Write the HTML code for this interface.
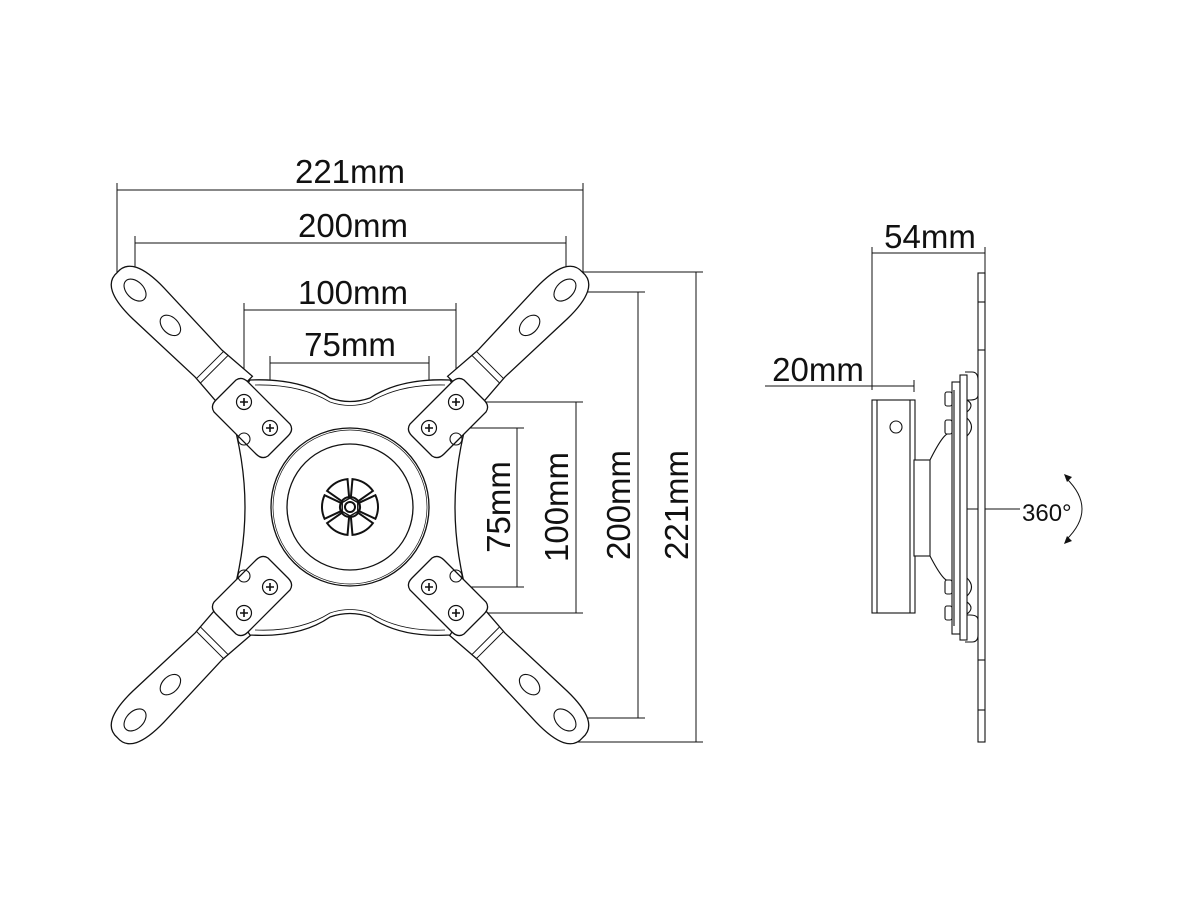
<!DOCTYPE html>
<html><head><meta charset="utf-8"><style>
html,body{margin:0;padding:0;background:#fff}
svg{display:block}
text{font-family:"Liberation Sans",Arial,sans-serif;fill:#111}
</style></head><body>
<svg width="1200" height="900" viewBox="0 0 1200 900" xmlns="http://www.w3.org/2000/svg">
<defs>
<g id="arm">
  <path d="M160,-22 L200,-19 L285,-22 Q331,-23 329,0 Q331,23 285,22 L200,19 L160,22 Z" fill="#fff" stroke="#111" stroke-width="1.3"/>
  <line x1="192" y1="-19" x2="192" y2="19" stroke="#111" stroke-width="1"/>
  <line x1="198" y1="-19" x2="198" y2="19" stroke="#111" stroke-width="1"/>
  <ellipse cx="304" cy="0" rx="13" ry="8.5" fill="none" stroke="#111" stroke-width="1.1"/>
  <ellipse cx="254" cy="0" rx="12" ry="8" fill="none" stroke="#111" stroke-width="1.1"/>
</g>
<g id="screw">
  <circle r="7.5" fill="#fff" stroke="#111" stroke-width="1.2"/>
  <path d="M-4,0 H4 M0,-4 V4" stroke="#111" stroke-width="1.6"/>
</g>
<g id="plate">
  <path d="M-38,-8 Q-42,-14 -36,-20 L-16,-40 Q-10,-44 -4,-38 L38,4 Q42,10 36,16 L16,36 Q10,40 4,34 Z" fill="#fff" stroke="#111" stroke-width="1.3"/>
</g>
<path id="seg" d="M9.1,-4.2 L25.4,-11.8 A28,28 0 0 1 25.4,11.8 L9.1,4.2 A10,10 0 0 0 9.1,-4.2 Z" fill="#fff" stroke="#111" stroke-width="2"/>
</defs>

<g stroke="#111" stroke-width="1" fill="none">
  <line x1="117" y1="190" x2="583" y2="190"/>
  <line x1="117" y1="183" x2="117" y2="290"/>
  <line x1="583" y1="183" x2="583" y2="278"/>
  <line x1="135" y1="243" x2="566" y2="243"/>
  <line x1="135" y1="236" x2="135" y2="292"/>
  <line x1="566" y1="236" x2="566" y2="292"/>
  <line x1="244" y1="310" x2="456" y2="310"/>
  <line x1="244" y1="303" x2="244" y2="402"/>
  <line x1="456" y1="303" x2="456" y2="402"/>
  <line x1="270" y1="363" x2="429" y2="363"/>
  <line x1="270" y1="356" x2="270" y2="428"/>
  <line x1="429" y1="356" x2="429" y2="428"/>
  <line x1="517" y1="428" x2="517" y2="587"/>
  <line x1="429" y1="428" x2="524" y2="428"/>
  <line x1="429" y1="587" x2="524" y2="587"/>
  <line x1="576" y1="402" x2="576" y2="613"/>
  <line x1="456" y1="402" x2="583" y2="402"/>
  <line x1="456" y1="613" x2="583" y2="613"/>
  <line x1="638" y1="292" x2="638" y2="718"/>
  <line x1="566" y1="292" x2="645" y2="292"/>
  <line x1="566" y1="718" x2="645" y2="718"/>
  <line x1="696" y1="272" x2="696" y2="742"/>
  <line x1="578" y1="272" x2="703" y2="272"/>
  <line x1="572" y1="742" x2="703" y2="742"/>
</g>
<g font-size="33">
  <text x="350" y="183" text-anchor="middle">221mm</text>
  <text x="353" y="237" text-anchor="middle">200mm</text>
  <text x="353" y="304" text-anchor="middle">100mm</text>
  <text x="350" y="356" text-anchor="middle">75mm</text>
  <text transform="translate(510,507) rotate(-90)" text-anchor="middle">75mm</text>
  <text transform="translate(568,507) rotate(-90)" text-anchor="middle">100mm</text>
  <text transform="translate(630,505) rotate(-90)" text-anchor="middle">200mm</text>
  <text transform="translate(688,505) rotate(-90)" text-anchor="middle">221mm</text>
</g>

<g transform="translate(350,505)">
  <use href="#arm" transform="rotate(-135)"/>
  <use href="#arm" transform="rotate(-45)"/>
  <use href="#arm" transform="rotate(45)"/>
  <use href="#arm" transform="rotate(135)"/>
</g>
<path d="M250,380 Q300,378 330,398 Q350,405 370,398 Q400,378 450,380 L470,410 Q455,460 455,507 Q455,555 470,605 L450,635 Q400,638 370,617 Q350,610 330,617 Q300,638 250,635 L230,605 Q245,555 245,507 Q245,460 230,410 Z" fill="#fff" stroke="#111" stroke-width="1.3"/>
<path d="M255,385 Q300,384 330,402 Q350,409 370,402 Q400,384 445,385" fill="none" stroke="#111" stroke-width="0.8"/>
<path d="M255,630 Q300,632 330,613 Q350,606 370,613 Q400,632 445,630" fill="none" stroke="#111" stroke-width="0.8"/>
<use href="#plate" transform="translate(252,420)"/>
<use href="#plate" transform="translate(448,420) scale(-1,1)"/>
<use href="#plate" transform="translate(252,594) scale(1,-1)"/>
<use href="#plate" transform="translate(448,594) scale(-1,-1)"/>
<g fill="none" stroke="#111" stroke-width="1.1">
  <circle cx="244" cy="439" r="6"/><circle cx="456" cy="439" r="6"/>
  <circle cx="244" cy="576" r="6"/><circle cx="456" cy="576" r="6"/>
</g>
<use href="#screw" x="244" y="402"/><use href="#screw" x="456" y="402"/>
<use href="#screw" x="244" y="613"/><use href="#screw" x="456" y="613"/>
<use href="#screw" x="270" y="428"/><use href="#screw" x="429" y="428"/>
<use href="#screw" x="270" y="587"/><use href="#screw" x="429" y="587"/>
<circle cx="350" cy="507" r="79" fill="#fff" stroke="#111" stroke-width="1.3"/>
<circle cx="350" cy="507" r="77" fill="none" stroke="#111" stroke-width="0.7"/>
<circle cx="350" cy="507" r="63" fill="none" stroke="#111" stroke-width="1.3"/>
<g transform="translate(350,507)">
  <use href="#seg"/>
  <use href="#seg" transform="rotate(60)"/>
  <use href="#seg" transform="rotate(120)"/>
  <use href="#seg" transform="rotate(180)"/>
  <use href="#seg" transform="rotate(240)"/>
  <use href="#seg" transform="rotate(300)"/>
  <polygon points="0,-9 7.8,-4.5 7.8,4.5 0,9 -7.8,4.5 -7.8,-4.5" fill="#fff" stroke="#111" stroke-width="1.5"/>
  <circle r="5" fill="none" stroke="#111" stroke-width="2"/>
</g>

<g stroke="#111" stroke-width="1" fill="none">
  <line x1="872" y1="253" x2="985" y2="253"/>
  <line x1="872" y1="247" x2="872" y2="390"/>
  <line x1="985" y1="247" x2="985" y2="273"/>
  <line x1="765" y1="386" x2="914" y2="386"/>
  <line x1="914" y1="380" x2="914" y2="392"/>
  <line x1="965" y1="509" x2="1020" y2="509"/>
</g>
<g stroke="#111" stroke-width="1.1" fill="#fff">
  <rect x="872" y="400" width="43" height="213"/>
  <line x1="877" y1="400" x2="877" y2="613"/>
  <line x1="910" y1="400" x2="910" y2="613"/>
  <circle cx="896" cy="427" r="6"/>
  <rect x="914" y="460" width="16" height="96"/>
  <path d="M930,460 Q945,430 950,434 M930,556 Q945,585 950,580" fill="none"/>
  <rect x="978" y="273" width="7" height="469"/>
  <line x1="978" y1="302" x2="985" y2="302"/><line x1="978" y1="350" x2="985" y2="350"/>
  <line x1="978" y1="660" x2="985" y2="660"/><line x1="978" y1="710" x2="985" y2="710"/>
  <path d="M965,372 L972,372 Q978,372 978,380 L978,395 Q978,400 970,400 L966,400" />
  <path d="M965,642 L972,642 Q978,642 978,635 L978,620 Q978,615 970,615 L966,615" />
  <rect x="952" y="382" width="8" height="252"/>
  <rect x="960" y="375" width="7" height="265"/>
  <line x1="954" y1="390" x2="954" y2="626"/>
  <rect x="945" y="392" width="7" height="14" rx="2"/>
  <rect x="945" y="420" width="7" height="14" rx="2"/>
  <rect x="945" y="580" width="7" height="14" rx="2"/>
  <rect x="945" y="606" width="7" height="14" rx="2"/>
  <path d="M967,400 Q975,405 967,412 M967,418 Q976,427 967,436 M967,578 Q976,587 967,596 M967,602 Q975,608 967,614" fill="none"/>
</g>
<g font-size="33">
  <text x="930" y="248" text-anchor="middle">54mm</text>
  <text x="818" y="381" text-anchor="middle">20mm</text>
</g>
<text x="1022" y="521" font-size="24">360°</text>
<path d="M1066,478 Q1098,509 1066,540" fill="none" stroke="#111" stroke-width="1"/>
<path d="M1064,474 L1072,477 L1067,482 Z M1064,544 L1072,541 L1067,536 Z" fill="#111"/>
</svg>
</body></html>
